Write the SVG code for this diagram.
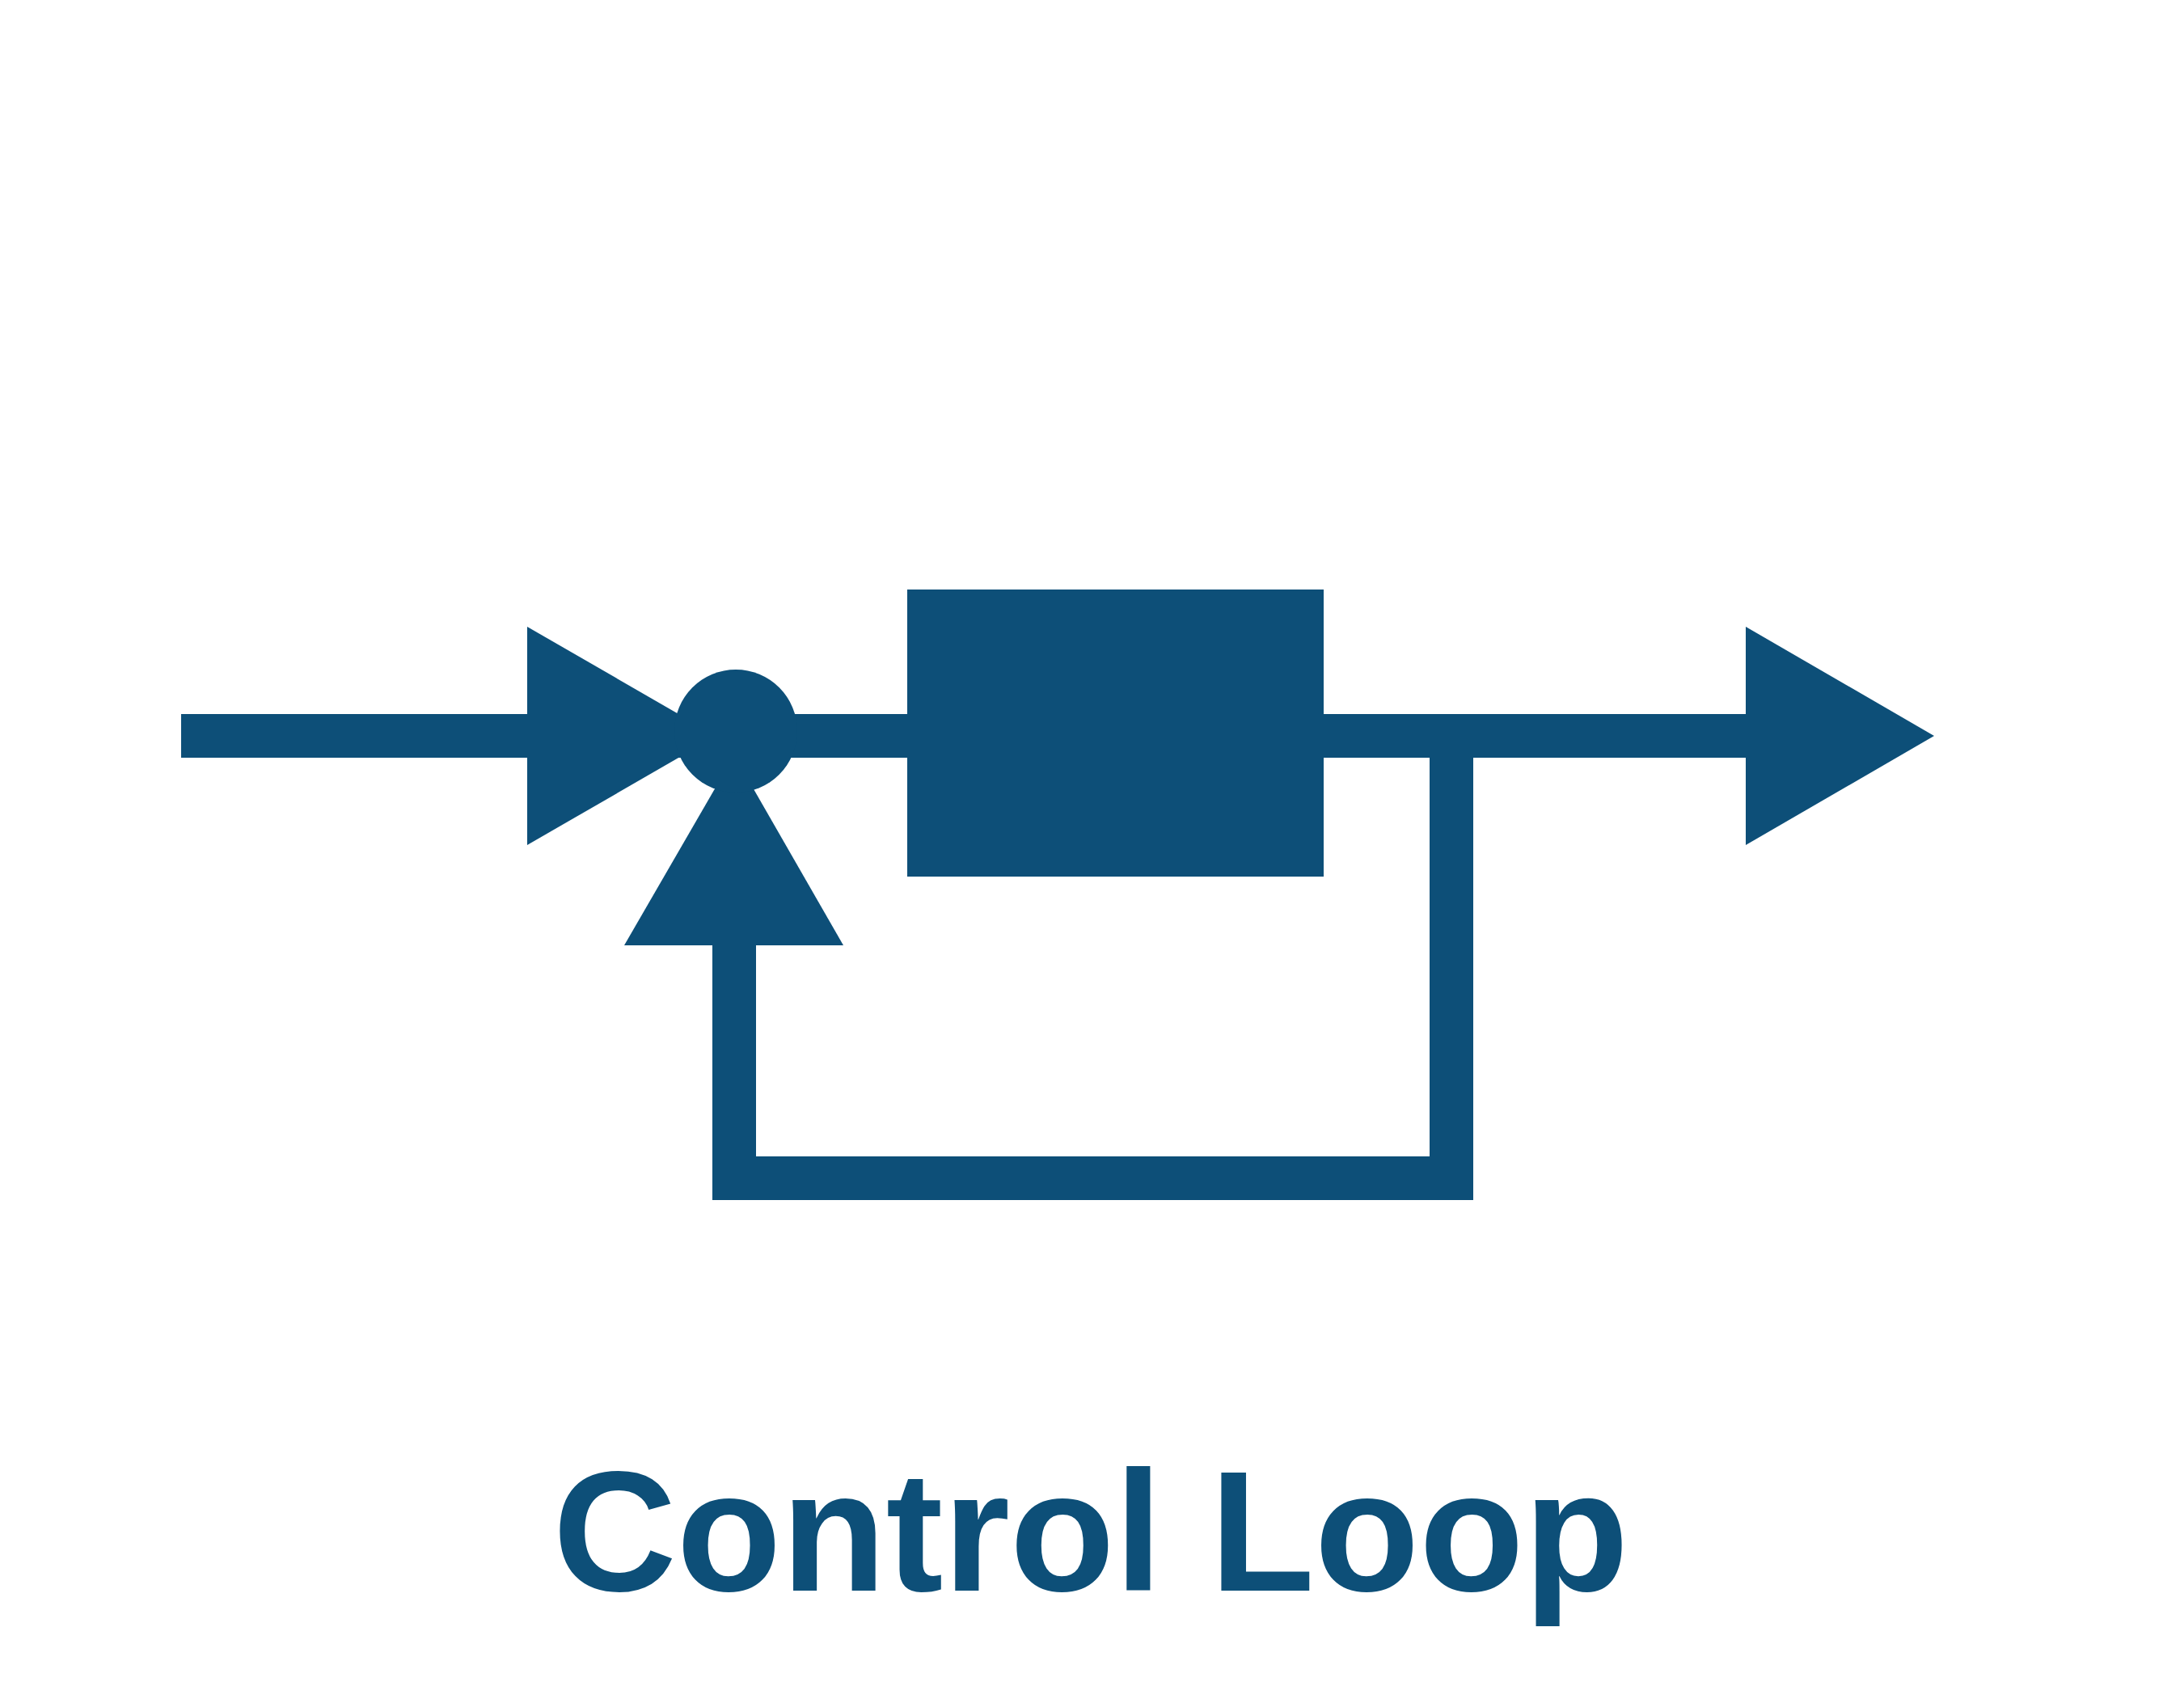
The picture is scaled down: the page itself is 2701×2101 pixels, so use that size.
<svg xmlns="http://www.w3.org/2000/svg" width="2701" height="2101" viewBox="0 0 2701 2101">
<style>
.f{fill:#0d4f78}
.w{stroke:#0d4f78;stroke-width:54;fill:none;stroke-linejoin:miter;stroke-linecap:butt}
.t{font-family:"Liberation Sans",Arial,sans-serif;font-weight:bold;font-size:212px;fill:#0d4f78}
</style>
<rect width="2701" height="2101" fill="#ffffff"/>
<g id="connectors">
<line class="w" x1="224" y1="910" x2="860" y2="910"/>
<polygon class="f" points="652,775 886,910 652,1045"/>
<line class="w" x1="909" y1="910" x2="1130" y2="910"/>
<line class="w" x1="1630" y1="910" x2="2170" y2="910"/>
<polygon class="f" points="2159,775 2392,910 2159,1045"/>
<polyline class="w" points="1795,910 1795,1457 908,1457 908,1160"/>
<polygon class="f" points="772,1169 908,934 1043,1169"/>
</g>
<g id="sum">
<circle class="f" cx="910" cy="904" r="76"/>
</g>
<g id="block">
<rect class="f" x="1122" y="729" width="515" height="355"/>
</g>
<g id="title">
<text class="t" x="1349" y="1967" text-anchor="middle">Control Loop</text>
</g>
</svg>
